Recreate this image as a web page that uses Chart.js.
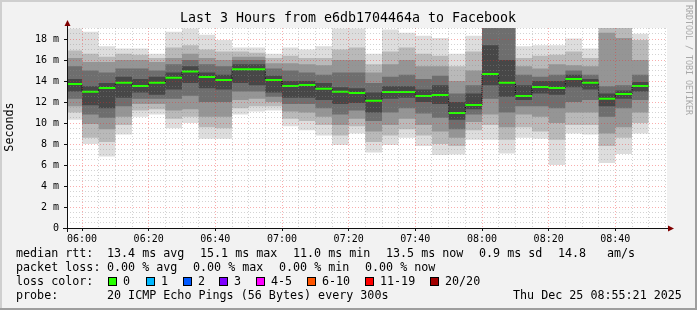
<!DOCTYPE html>
<html>
<head>
<meta charset="utf-8">
<title>Last 3 Hours from e6db1704464a to Facebook</title>
<script src="https://cdn.jsdelivr.net/npm/chart.js@4/dist/chart.umd.min.js"></script>
<style>
  html, body { margin: 0; padding: 0; background: #f2f2f2; }
  canvas { display: block; }
</style>
</head>
<body>
<canvas id="smokeChart" width="697" height="310"></canvas>
<script>
// 5 minute steps (start of each step)
const slots = ['05:55','06:00','06:05','06:10','06:15','06:20','06:25','06:30','06:35','06:40',
  '06:45','06:50','06:55','07:00','07:05','07:10','07:15','07:20','07:25','07:30',
  '07:35','07:40','07:45','07:50','07:55','08:00','08:05','08:10','08:15','08:20',
  '08:25','08:30','08:35','08:40','08:45'];

// median rtt, ms
const median = [13.71,12.98,13.33,13.84,13.52,13.84,14.30,14.90,14.38,14.10,
  15.12,15.12,14.10,13.52,13.62,13.27,12.98,12.86,12.12,12.95,
  12.95,12.57,12.67,10.95,11.71,14.67,13.84,12.57,13.43,13.33,
  14.19,13.84,12.32,12.76,13.52];

// smoke: ping spread per step, outer band (lightest) to core (darkest), ms
const outerLo = [10.3,8.0,6.8,8.9,10.6,10.8,9.5,10.0,8.5,8.5,10.8,11.1,11.2,9.7,9.3,8.8,7.9,9.0,7.2,7.9,8.6,7.8,6.95,7.0,8.4,8.4,7.1,8.6,8.5,6.0,9.0,8.9,6.2,7.05,9.0];
const outerHi = [19.0,18.7,17.3,17.1,17.1,16.6,18.7,19.0,18.4,17.9,17.2,17.2,16.6,17.2,17.0,17.3,19.0,19.0,16.6,18.9,18.6,18.3,18.1,16.6,18.3,20.5,20.5,17.3,17.4,17.4,18.05,17.1,20.5,20.5,18.5];
const band2Lo = [11.0,8.6,8.2,9.8,11.2,11.3,10.4,10.6,9.6,9.5,11.4,11.6,11.6,10.4,10.2,9.8,8.8,9.7,8.2,8.8,9.4,8.8,8.0,7.8,9.3,9.8,8.4,9.6,9.2,8.4,9.8,9.8,7.8,8.6,10.0];
const band2Hi = [16.9,16.6,16.3,16.6,16.5,16.2,17.2,17.4,17.0,16.8,16.8,16.7,16.2,16.4,16.2,16.2,17.0,17.2,15.6,16.8,17.2,16.6,16.4,15.4,16.8,20.3,20.2,16.2,16.4,16.5,16.8,16.2,19.8,19.8,17.9];
const band3Lo = [11.6,9.9,9.4,10.6,11.8,11.8,11.2,11.3,10.6,10.6,12.2,12.3,12.0,11.1,11.0,10.6,9.8,10.4,9.2,9.8,10.4,9.8,9.2,8.6,10.1,10.8,9.6,10.8,10.6,10.0,11.0,11.0,9.0,9.6,11.0];
const band3Hi = [16.2,15.8,15.8,16.0,16.0,15.8,16.2,16.6,16.2,16.0,16.3,16.3,15.7,15.7,15.6,15.5,16.0,16.0,14.8,15.6,16.0,15.4,15.4,14.0,15.0,20.0,19.8,15.4,15.2,15.6,15.5,15.4,18.6,18.1,16.0];
const band4Lo = [12.3,10.8,10.5,11.6,12.3,12.3,12.3,12.6,12.0,12.0,13.0,13.0,12.5,11.8,11.8,11.4,10.8,11.2,10.2,11.0,11.4,10.9,10.5,9.4,10.8,12.3,11.0,11.6,11.6,11.4,12.0,12.2,10.6,11.4,12.2];
const band4Hi = [15.4,15.0,14.8,15.2,15.2,15.0,15.6,16.0,15.6,15.4,16.0,16.0,15.2,15.0,14.8,14.6,14.8,14.8,13.8,14.4,14.6,14.2,14.5,12.8,13.6,19.8,19.5,14.6,14.4,14.6,15.0,14.6,13.5,13.6,14.6];
const coreLo = [13.0,11.7,11.4,12.4,12.9,12.7,13.2,13.8,13.3,13.2,13.8,13.6,12.9,12.4,12.4,12.2,11.8,11.9,11.0,12.3,12.4,12.0,11.8,10.3,11.3,13.6,12.5,12.2,12.8,12.7,13.4,13.2,11.6,12.3,13.0];
const coreHi = [14.2,13.5,13.8,14.4,14.2,14.4,14.8,15.4,14.8,14.6,15.6,15.6,14.5,14.0,14.0,13.8,13.4,13.3,12.9,13.5,13.5,13.2,13.6,12.0,12.8,17.4,16.0,13.6,14.0,14.0,14.6,14.2,12.8,13.1,13.9];

const xTickLabels = ['06:00','06:20','06:40','07:00','07:20','07:40','08:00','08:20','08:40'];
const yTickValues = [0,2,4,6,8,10,12,14,16,18];

const rttStats = [13.4, 15.1, 11.0, 13.5, 0.9, 14.8];   // avg max min now sd am/s
const lossStats = [0.00, 0.00, 0.00, 0.00];             // avg max min now
const lossLabels = ['0','1','2','3','4-5','6-10','11-19','20/20'];
const lossColors = ['#26ff00','#00b8ff','#0059ff','#7e00ff','#ff00ff','#ff5500','#ff0000','#a10000'];

const STEP = 5;
const toMin = s => { const [h, m] = s.split(':').map(Number); return (h - 6) * 60 + m; };
const t0 = slots.map(toMin);
const stepPts = vals => {
  const pts = t0.map((x, i) => ({x: x, y: vals[i]}));
  pts.push({x: t0[t0.length - 1] + STEP, y: vals[vals.length - 1]});
  return pts;
};

const shades = ['#dddddd', '#b9b9b9', '#959595', '#6e6e6e', '#474747'];
const bands = [[outerLo, outerHi], [band2Lo, band2Hi], [band3Lo, band3Hi], [band4Lo, band4Hi], [coreLo, coreHi]];

const datasets = [];
bands.forEach(([lo, hi], k) => {
  datasets.push({ data: stepPts(lo), stepped: 'before', borderColor: 'rgba(0,0,0,0)', borderWidth: 0, fill: false, order: 30 - 2 * k });
  datasets.push({ data: stepPts(hi), stepped: 'before', borderColor: 'rgba(0,0,0,0)', borderWidth: 0, backgroundColor: shades[k], fill: '-1', order: 29 - 2 * k });
});

// dotted step joining the medians
datasets.push({ data: stepPts(median), stepped: 'before', borderColor: '#000000', borderWidth: 1, borderDash: [1, 1], fill: false, order: 1 });

// green median segments
const medPts = [];
t0.forEach((x, i) => { medPts.push({x: x, y: median[i]}, {x: x + STEP, y: median[i]}, {x: x + STEP, y: null}); });
datasets.push({ data: medPts, borderColor: lossColors[0], borderWidth: 2, fill: false, spanGaps: false, order: 0 });

const MONO = "'DejaVu Sans Mono', monospace";
const GRID = 'rgba(140,140,140,0.38)';
const MGRID = 'rgba(240,40,40,0.38)';

const decor = {
  id: 'decor',
  beforeDraw(chart) {
    const {ctx, chartArea: a} = chart;
    ctx.save();
    ctx.fillStyle = '#f2f2f2';
    ctx.fillRect(0, 0, chart.width, chart.height);
    ctx.fillStyle = '#ffffff';
    ctx.fillRect(a.left, a.top, a.right - a.left, a.bottom - a.top);
    ctx.restore();
  },
  afterDraw(chart) {
    const {ctx, chartArea: a} = chart;
    const W = chart.width, H = chart.height;
    ctx.save();
    // axes
    ctx.strokeStyle = '#101010';
    ctx.lineWidth = 1;
    ctx.beginPath();
    ctx.moveTo(a.left - 4, a.bottom + 0.5); ctx.lineTo(a.right + 2, a.bottom + 0.5);
    ctx.moveTo(a.left + 0.5, a.bottom + 4); ctx.lineTo(a.left + 0.5, a.top - 2);
    ctx.stroke();
    ctx.fillStyle = '#800000';
    ctx.beginPath();
    ctx.moveTo(a.right + 1, a.bottom - 2.5); ctx.lineTo(a.right + 7, a.bottom + 0.5); ctx.lineTo(a.right + 1, a.bottom + 3.5);
    ctx.closePath(); ctx.fill();
    ctx.beginPath();
    ctx.moveTo(a.left - 2.5, a.top - 2); ctx.lineTo(a.left + 0.5, a.top - 8); ctx.lineTo(a.left + 3.5, a.top - 2);
    ctx.closePath(); ctx.fill();

    // title
    ctx.fillStyle = '#000000';
    ctx.textBaseline = 'middle';
    ctx.textAlign = 'center';
    ctx.font = '13.3px ' + MONO;
    ctx.fillText('Last 3 Hours from e6db1704464a to Facebook', 348, 19);

    // vertical axis title
    ctx.save();
    ctx.translate(10, 127);
    ctx.rotate(-Math.PI / 2);
    ctx.font = '11.7px ' + MONO;
    ctx.fillText('Seconds', 0, 0);
    ctx.restore();

    // watermark
    ctx.save();
    ctx.translate(688, 5);
    ctx.rotate(Math.PI / 2);
    ctx.textAlign = 'left';
    ctx.fillStyle = '#a8a8a8';
    ctx.font = '8.3px ' + MONO;
    ctx.fillText('RRDTOOL / TOBI OETIKER', 0, 0);
    ctx.restore();

    // legend
    ctx.textAlign = 'left';
    ctx.font = '11.7px ' + MONO;
    const f1 = v => v.toFixed(1), f2 = v => v.toFixed(2);
    const line = (y, items) => items.forEach(([x, s]) => ctx.fillText(s, x, y));
    line(254, [[16, 'median rtt:'], [107, f1(rttStats[0]) + ' ms avg'], [200, f1(rttStats[1]) + ' ms max'],
      [293, f1(rttStats[2]) + ' ms min'], [386, f1(rttStats[3]) + ' ms now'], [479, f1(rttStats[4]) + ' ms sd'],
      [558, f1(rttStats[5])], [607, 'am/s']]);
    line(268, [[16, 'packet loss:'], [107, f2(lossStats[0]) + ' % avg'], [193, f2(lossStats[1]) + ' % max'],
      [279, f2(lossStats[2]) + ' % min'], [365, f2(lossStats[3]) + ' % now']]);
    line(282, [[16, 'loss color:']]);
    const boxX = [108, 146, 183, 219, 256, 307, 365, 430];
    lossLabels.forEach((lab, i) => {
      ctx.fillStyle = lossColors[i];
      ctx.fillRect(boxX[i], 277, 9, 9);
      ctx.strokeStyle = '#000000';
      ctx.strokeRect(boxX[i] + 0.5, 277.5, 8, 8);
      ctx.fillStyle = '#000000';
      ctx.fillText(lab, boxX[i] + 15, 282);
    });
    line(296, [[16, 'probe:'], [107, '20 ICMP Echo Pings (56 Bytes) every 300s'], [513, 'Thu Dec 25 08:55:21 2025']]);

    // frame
    ctx.fillStyle = '#cfcfcf';
    ctx.fillRect(0, 0, W, 2);
    ctx.fillRect(0, 0, 2, H);
    ctx.fillStyle = '#9e9e9e';
    ctx.fillRect(0, H - 2, W, 2);
    ctx.fillRect(W - 2, 0, 2, H);
    ctx.restore();
  }
};

const xMinor = [];
for (let v = 0; v <= 175; v += STEP) xMinor.push(v);
const yMinor = [];
for (let v = 0; v <= 19; v += 0.5) yMinor.push(v);
const xMajor = xTickLabels.map(toMin);

new Chart(document.getElementById('smokeChart'), {
  type: 'line',
  data: { datasets: datasets },
  options: {
    responsive: false,
    animation: false,
    devicePixelRatio: 1,
    events: [],
    layout: { padding: { top: 28, right: 30, left: 0, bottom: 0 } },
    elements: { point: { radius: 0 }, line: { tension: 0 } },
    plugins: { legend: { display: false }, tooltip: { enabled: false }, title: { display: false } },
    scales: {
      x: {
        type: 'linear',
        min: -4.5,
        max: 175.5,
        offset: false,
        afterBuildTicks: s => { s.ticks = xMinor.map(v => ({value: v})); },
        afterFit: s => { s.height = 82; },
        ticks: {
          autoSkip: false, maxRotation: 0, minRotation: 0, padding: 2, color: '#000000',
          font: { family: MONO, size: 10 },
          callback: v => { const i = xMajor.indexOf(v); return i >= 0 ? xTickLabels[i] : ''; }
        },
        grid: {
          z: 1, lineWidth: 1, tickLength: 3,
          color: c => xMajor.includes(c.tick.value) ? MGRID : GRID,
          tickColor: c => xMajor.includes(c.tick.value) ? '#101010' : 'rgba(0,0,0,0)'
        },
        border: { display: false, dash: [1, 2] }
      },
      y: {
        type: 'linear',
        min: 0,
        max: 19.05,
        afterBuildTicks: s => { s.ticks = yMinor.map(v => ({value: v})); },
        afterFit: s => { s.width = 67; },
        ticks: {
          autoSkip: false, padding: 5, color: '#000000',
          font: { family: MONO, size: 10 },
          callback: v => yTickValues.includes(v) ? (v === 0 ? '0' : v + ' m') : ''
        },
        grid: {
          z: 1, lineWidth: 1, tickLength: 3,
          color: c => yTickValues.includes(c.tick.value) ? MGRID : GRID,
          tickColor: c => yTickValues.includes(c.tick.value) ? '#101010' : 'rgba(0,0,0,0)'
        },
        border: { display: false, dash: [1, 2] }
      }
    }
  },
  plugins: [decor]
});
</script>
</body>
</html>
